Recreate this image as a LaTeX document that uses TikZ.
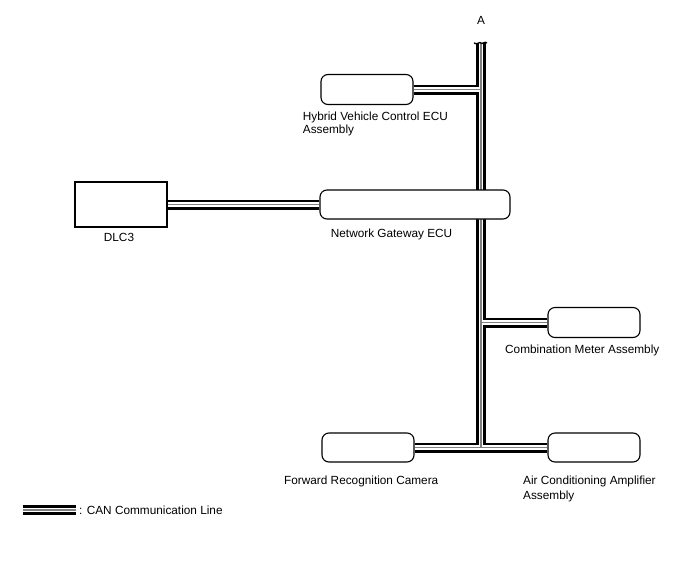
\documentclass[tikz,border=0pt]{standalone}
\usepackage{fontspec}
\setmainfont{Liberation Sans}
\usetikzlibrary{backgrounds}
\tikzset{
  ecubox/.style={draw, line width=1.1pt, rounded corners=7pt, fill=white, inner sep=0pt,
    minimum width=92pt, minimum height=30pt},
  dlcbox/.style={draw, line width=1.1pt, fill=white, inner sep=0pt,
    minimum width=92pt, minimum height=45pt},
  lbl/.style={inner sep=0pt, font=\fontsize{11.8}{12.7}\selectfont},
  canouter/.style={line width=10pt, black},
  caninner/.style={line width=4.6pt, white},
  cancore/.style={line width=1.2pt, black!50},
}
\def\canpath{(top) -- (bot)
  (hv.east) -- (hv.east -| top)
  (dlc.east) -- (gw.west)
  (cm.west) -- (cm.west -| top)
  (frc.east) -- (ac.west)
  (lgA) -- (lgB)}
\begin{document}
\begin{tikzpicture}[x=1pt,y=-1pt]
\useasboundingbox (0,0) rectangle (688,560);
% boxes
\node[ecubox] (hv) at (367,89.5) {};
\node[dlcbox] (dlc) at (121,204.5) {};
\node[ecubox, minimum width=190pt, minimum height=29pt] (gw) at (415,204.5) {};
\node[ecubox] (cm) at (594,322.5) {};
\node[ecubox, minimum height=29pt] (frc) at (368,447.5) {};
\node[ecubox, minimum height=29pt] (ac) at (594,447.5) {};
% trunk ends and legend line
\coordinate (top) at (481,43);
\coordinate (bot) at (481,447.5);
\coordinate (lgA) at (22.7,510);
\coordinate (lgB) at (75.7,510);
% CAN lines
\begin{scope}[on background layer]
  \draw[canouter] \canpath;
  \draw[caninner] \canpath;
  \draw[cancore] \canpath;
\end{scope}
% break mark at the top of the trunk
\draw[line width=1.3pt] ([xshift=-7pt]top) .. controls ([xshift=-4pt,yshift=-2.5pt]top) and ([xshift=-1pt,yshift=2pt]top) .. (top)
  .. controls ([xshift=1pt,yshift=-2pt]top) and ([xshift=4pt,yshift=2.5pt]top) .. ([xshift=6pt]top);
% labels
\node[lbl, anchor=base] (la) at (481,24) {A};
\node[lbl, anchor=north west, align=left] (lhv) at (302.7,112.1) {Hybrid Vehicle Control ECU\\Assembly};
\node[lbl, anchor=base] (ldlc) at (119,241.7) {DLC3};
\node[lbl, anchor=base west] (lgw) at (330.7,237) {Network Gateway ECU};
\node[lbl, anchor=base west] (lcm) at (505,353) {Combination Meter Assembly};
\node[lbl, anchor=base west] (lfrc) at (284,484) {Forward Recognition Camera};
\node[lbl, anchor=north west, align=left, font=\fontsize{11.8}{15.5}\selectfont] (lac) at (523,475.4) {Air Conditioning Amplifier\\Assembly};
\node[lbl, anchor=base west] (lg) at (79,514) {: CAN Communication Line};
\end{tikzpicture}
\end{document}
